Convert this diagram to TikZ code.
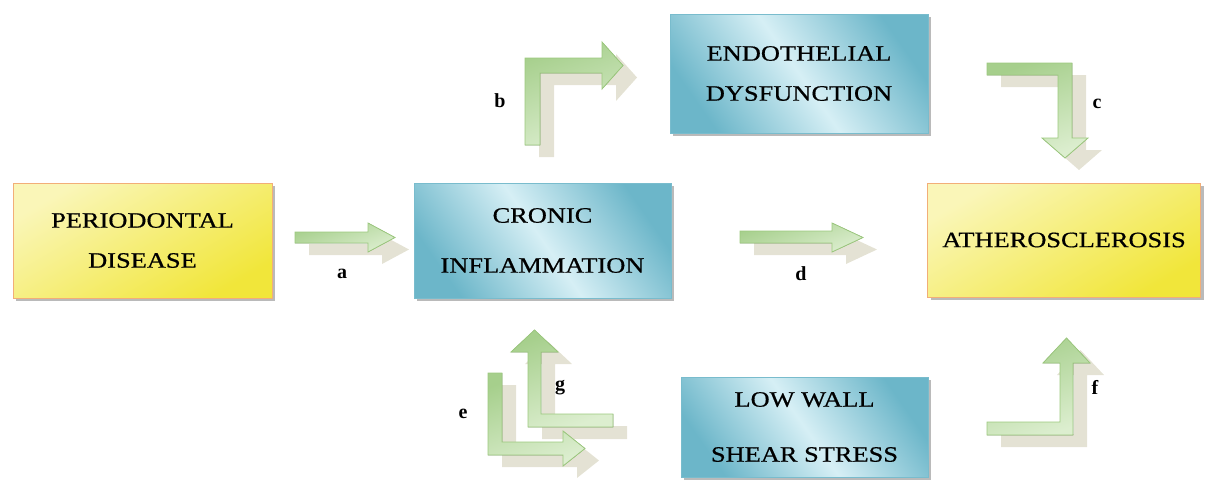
\documentclass[tikz,border=0pt]{standalone}
\usepackage{fontspec}
\setmainfont{Liberation Serif}
\newfontfamily\boxfont[FakeStretch=1.2,FakeBold=0.6]{Liberation Serif}
\usetikzlibrary{shadows}
\definecolor{yelD}{HTML}{F1E63A}
\definecolor{yelL}{HTML}{FAF6B8}
\definecolor{yelB}{HTML}{F2AE78}
\definecolor{bluD}{HTML}{6CB6C9}
\definecolor{bluL}{HTML}{D6EFF5}
\definecolor{bluB}{HTML}{79BCCD}
\definecolor{grnD}{HTML}{A6CF8C}
\definecolor{grnL}{HTML}{DCEECF}
\definecolor{grnB}{HTML}{9CC97E}
\definecolor{shd}{HTML}{E4E2D4}
\tikzset{
  boxbase/.style={draw, line width=1pt, rectangle, align=center, inner sep=0pt,
    drop shadow={shadow xshift=3pt, shadow yshift=-3pt, fill=black!45, opacity=0.6}},
  yelbox/.style={boxbase, draw=yelB, top color=yelL, bottom color=yelD, shading angle=30},
  blubox/.style={boxbase, draw=bluB, top color=bluD, bottom color=bluD, middle color=bluL, shading angle=-55},
  arrshadow/.style={fill=shd, draw=none},
  arrgreen/.style={draw=grnB, line width=0.8pt, left color=grnD, right color=grnL, shading angle=20},
  lbl/.style={font=\bfseries\fontsize{20}{20}\selectfont, inner sep=0pt}
}
\newcommand{\greenarrow}[1]{%
  \fill[arrshadow, shift={(14,12)}] #1;
  \filldraw[arrgreen] #1;}
\begin{document}
\begin{tikzpicture}[x=1pt,y=-1pt]
\useasboundingbox (0,0) rectangle (1210,483);
% boxes
\node[yelbox, minimum width=259pt, minimum height=115pt,
  font=\boxfont\fontsize{22}{40}\selectfont] (pd) at (142.5,240.5) {PERIODONTAL\\DISEASE};
\node[blubox, minimum width=257pt, minimum height=115pt,
  font=\boxfont\fontsize{22}{50}\selectfont] (ci) at (542.5,240.5) {CRONIC\\INFLAMMATION};
\node[blubox, minimum width=258pt, minimum height=119pt,
  font=\boxfont\fontsize{22}{40}\selectfont] (ed) at (799,73.5) {ENDOTHELIAL\\DYSFUNCTION};
\node[yelbox, minimum width=273pt, minimum height=114pt,
  font=\boxfont\fontsize{22}{40}\selectfont] (at) at (1064,240) {ATHEROSCLEROSIS};
\node[blubox, minimum width=247pt, minimum height=100pt,
  font=\boxfont\fontsize{22}{55}\selectfont] (lw) at (804.5,427) {LOW WALL\\SHEAR STRESS};
% arrow shadows
\fill[arrshadow, shift={(14,12)}] (528,427)--(528,352)--(511,352)--(534.5,330)--(558,352)--(541,352)--(541,414)--(613,414)--(613,427)--cycle;
\fill[arrshadow, shift={(14,12)}] (488,373)--(502,373)--(502,442)--(563,442)--(563,431)--(585,448.5)--(563,466)--(563,455)--(488,455)--cycle;
% arrows
\greenarrow{(295,232)--(368,232)--(368,223)--(395,237.5)--(368,252)--(368,243)--(295,243)--cycle}
\greenarrow{(740,231)--(832,231)--(832,223)--(863,237.5)--(832,252)--(832,243)--(740,243)--cycle}
\greenarrow{(525,145)--(525,58)--(602,58)--(602,42)--(623,65.5)--(602,89)--(602,73)--(540,73)--(540,145)--cycle}
\greenarrow{(987,63)--(1072,63)--(1072,138)--(1088,138)--(1065,158)--(1042,138)--(1058,138)--(1058,75)--(987,75)--cycle}
\greenarrow{(987,435)--(1073,435)--(1073,363)--(1090,363)--(1066.5,338)--(1043,363)--(1060,363)--(1060,422)--(987,422)--cycle}
\filldraw[arrgreen] (528,427)--(528,352)--(511,352)--(534.5,330)--(558,352)--(541,352)--(541,414)--(613,414)--(613,427)--cycle;
\filldraw[arrgreen] (488,373)--(502,373)--(502,442)--(563,442)--(563,431)--(585,448.5)--(563,466)--(563,455)--(488,455)--cycle;
% labels
\node[lbl] (la) at (342,274) {a};
\node[lbl] (lb) at (500,101) {b};
\node[lbl] (lc) at (1097,104) {c};
\node[lbl] (ld) at (801,274) {d};
\node[lbl] (le) at (463,414) {e};
\node[lbl] (lf) at (1095,387) {f};
\node[lbl] (lg) at (560,388) {g};
\end{tikzpicture}
\end{document}
